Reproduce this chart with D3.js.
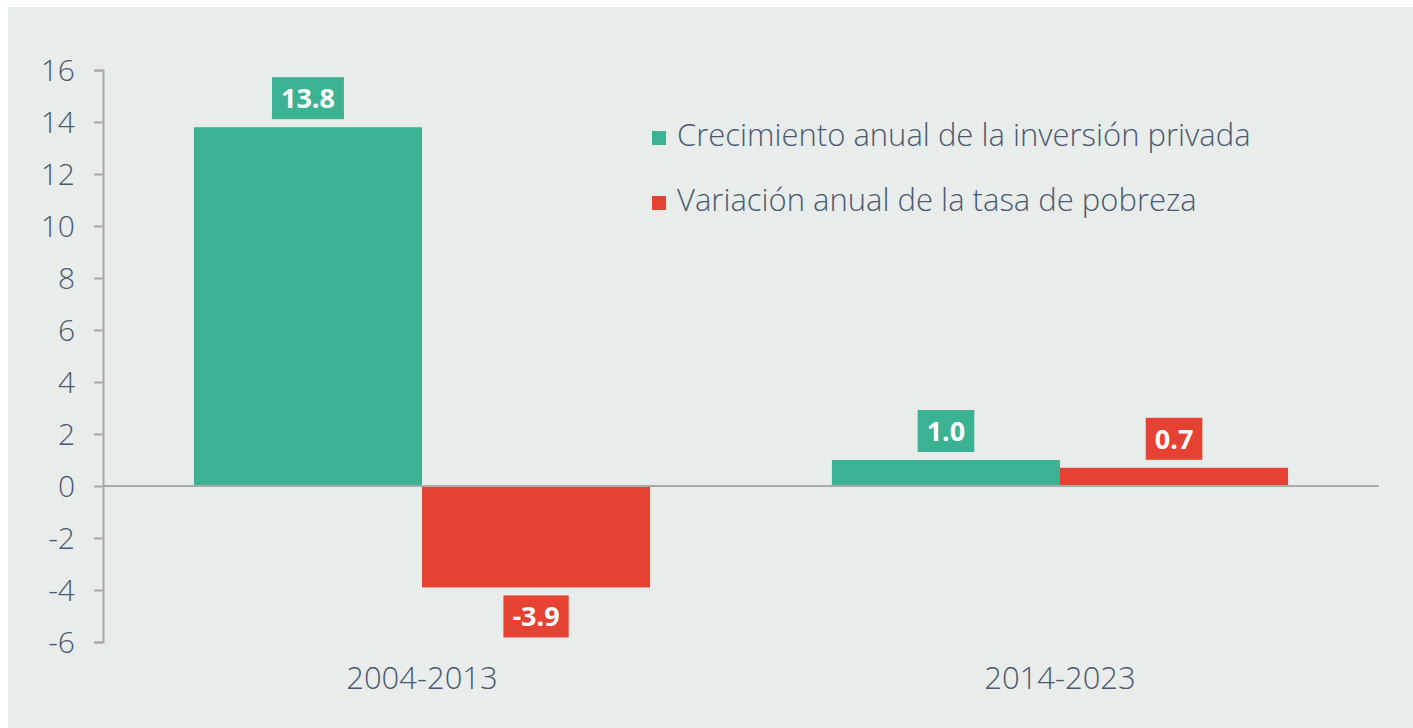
<!DOCTYPE html>
<html lang="es">

<head>
    <meta charset="UTF-8">
    <title>Inversión privada y pobreza</title>

    <script src="https://d3js.org/d3.v7.min.js"></script>

    <style>
        body {
            margin: 0;
            background: #ffffff;
        }

        svg text {
            font-family: "Open Sans", sans-serif;
            font-weight: 300;
            fill: #4b5a70;
        }

        .valueLabel {
            font-weight: 700 !important;
            fill: #ffffff !important;
        }
    </style>
</head>

<body>
    <svg width="1413" height="728"></svg>

    <script>
        const periods = ["2004-2013", "2014-2023"];
        const seriesNames = ["Crecimiento anual de la inversión privada",
            "Variación anual de la tasa de pobreza"];
        const inversion = [13.8, 1.0];
        const pobreza = [-3.9, 0.7];
        const yTicks = [-6, -4, -2, 0, 2, 4, 6, 8, 10, 12, 14, 16];
        const colors = ["#3bb392", "#e54233"];

        // plain hyphen instead of unicode minus
        const fmtInt = d => String(d);
        const fmtVal = d => d.toFixed(1);

        const svg = d3.select("svg");

        // panel background
        svg.append("rect")
            .attr("x", 8).attr("y", 7)
            .attr("width", 1413 - 8).attr("height", 728 - 7)
            .attr("fill", "#e8ecea");

        const margin = { left: 103, right: 1379, top: 70, bottom: 642 };

        const y = d3.scaleLinear()
            .domain([-6, 16])
            .range([margin.bottom, margin.top]);

        const x = d3.scaleBand()
            .domain(periods)
            .range([margin.left, margin.right])
            .paddingInner(0.285)
            .paddingOuter(0.1425);

        const xSub = d3.scaleBand()
            .domain([0, 1])
            .range([0, x.bandwidth()]);

        const rows = periods.map((p, i) => ({
            period: p,
            values: [inversion[i], pobreza[i]]
        }));

        // y axis
        const yAxis = svg.append("g")
            .attr("transform", `translate(${margin.left},0)`)
            .call(d3.axisLeft(y).tickValues(yTicks).tickSize(9).tickPadding(19).tickFormat(fmtInt));
        yAxis.select(".domain").attr("stroke", "#a9a9a9").attr("stroke-width", 2);
        yAxis.selectAll(".tick line").attr("stroke", "#a9a9a9").attr("stroke-width", 2);
        yAxis.selectAll(".tick text")
            .attr("font-size", 30)
            .attr("dy", "0.36em")
            .style("font-family", "\"Open Sans\", sans-serif");

        // bars
        const groups = svg.append("g").selectAll("g")
            .data(rows)
            .join("g")
            .attr("transform", d => `translate(${x(d.period)},0)`);

        groups.selectAll("rect")
            .data(d => d.values.map((v, k) => ({ v, k })))
            .join("rect")
            .attr("x", d => xSub(d.k))
            .attr("width", xSub.bandwidth())
            .attr("y", d => y(Math.max(0, d.v)))
            .attr("height", d => Math.abs(y(d.v) - y(0)))
            .attr("fill", d => colors[d.k]);

        // value labels in boxes
        const labels = groups.selectAll("g.lbl")
            .data(d => d.values.map((v, k) => ({ v, k })))
            .join("g")
            .attr("class", "lbl");

        labels.each(function (d) {
            const g = d3.select(this);
            const cx = xSub(d.k) + xSub.bandwidth() / 2;
            const h = 42;
            const boxY = d.v >= 0 ? y(d.v) - 8 - h : y(d.v) + 8;
            const box = g.append("rect")
                .attr("y", boxY)
                .attr("height", h)
                .attr("fill", colors[d.k]);
            const t = g.append("text")
                .attr("class", "valueLabel")
                .attr("x", cx).attr("y", boxY + h / 2)
                .attr("dy", "0.36em")
                .attr("text-anchor", "middle")
                .attr("font-size", 27)
                .text(fmtVal(d.v));
            const w = t.node().getComputedTextLength() + 18;
            box.attr("x", cx - w / 2).attr("width", w);
        });

        // zero line
        svg.append("line")
            .attr("x1", margin.left).attr("x2", margin.right)
            .attr("y1", y(0)).attr("y2", y(0))
            .attr("stroke", "#a9a9a9").attr("stroke-width", 2);

        // x labels
        svg.append("g").selectAll("text")
            .data(periods)
            .join("text")
            .attr("x", d => x(d) + x.bandwidth() / 2)
            .attr("y", 689)
            .attr("text-anchor", "middle")
            .attr("font-size", 31)
            .text(d => d);

        // legend
        const legend = svg.append("g").selectAll("g")
            .data(seriesNames)
            .join("g")
            .attr("transform", (d, i) => `translate(652,${131 + i * 65})`);
        legend.append("rect")
            .attr("width", 14).attr("height", 14)
            .attr("fill", (d, i) => colors[i]);
        legend.append("text")
            .attr("x", 25).attr("y", 15)
            .attr("font-size", 31)
            .text(d => d);
    </script>
</body>

</html>
